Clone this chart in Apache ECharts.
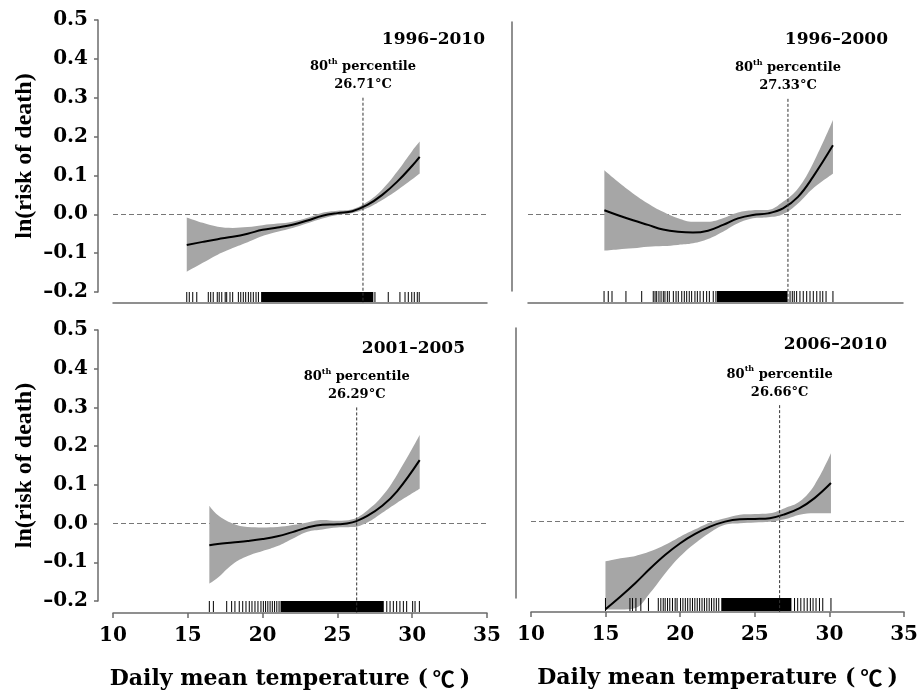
<!DOCTYPE html>
<html>
<head>
<meta charset="utf-8">
<script src="https://cdn.jsdelivr.net/npm/echarts@6/dist/echarts.min.js"></script>
<style>
html, body { margin: 0; background: #fff; }
#main { width: 921px; height: 694px; }
</style>
</head>
<body>
<div id="main"></div>
<script>
// periods shown in the four panels (TL, TR, BL, BR)
const periods = ['1996–2010', '1996–2000', '2001–2005', '2006–2010']
const pct80 = [26.71, 27.33, 26.29, 26.66]
const pctTop = 0.30

const xTicks = [10, 15, 20, 25, 30, 35]
const yTicks = [-0.2, -0.1, 0.0, 0.1, 0.2, 0.3, 0.4, 0.5]

// 1996-2010
const tlTemp = [14.93, 16, 17, 18, 19, 20, 21, 22, 23, 24, 25, 26, 27, 28, 29, 30, 30.5]
const tlFit = [-0.079, -0.071, -0.064, -0.058, -0.050, -0.040, -0.034, -0.027, -0.016, -0.004, 0.003, 0.008, 0.024, 0.050, 0.084, 0.125, 0.148]
const tlUp = [-0.008, -0.022, -0.032, -0.035, -0.033, -0.028, -0.024, -0.019, -0.009, 0.004, 0.009, 0.013, 0.032, 0.064, 0.110, 0.163, 0.187]
const tlLow = [-0.148, -0.125, -0.104, -0.087, -0.072, -0.056, -0.045, -0.035, -0.023, -0.011, -0.002, 0.003, 0.016, 0.037, 0.062, 0.090, 0.105]
const tlRug = [14.93, 15.1, 15.33, 15.6, 16.37, 16.53, 16.7, 16.97, 17.1, 17.27, 17.5, 17.6, 17.82, 18.0, 18.38, 18.54, 18.71, 18.87, 19.05, 19.21, 19.38, 19.56, 19.72,
  27.51, 28.4, 29.18, 29.52, 29.74, 29.97, 30.14, 30.34, 30.47]
const tlRugBlock = [[19.9, 27.4]]

// 1996-2000
const trTemp = [15.09, 16, 17, 18, 19, 20, 21, 22, 23, 24, 25, 26, 27, 28, 29, 30.33]
const trFit = [0.010, -0.003, -0.016, -0.028, -0.040, -0.046, -0.048, -0.043, -0.028, -0.011, -0.002, 0.002, 0.015, 0.045, 0.097, 0.179]
const trUp = [0.114, 0.084, 0.054, 0.028, 0.006, -0.011, -0.020, -0.020, -0.011, 0.004, 0.010, 0.011, 0.032, 0.067, 0.132, 0.245]
const trLow = [-0.095, -0.092, -0.089, -0.085, -0.083, -0.080, -0.076, -0.065, -0.046, -0.024, -0.011, -0.008, 0.000, 0.028, 0.067, 0.105]
const trRug = [15.07, 15.35, 15.6, 16.53, 17.58, 18.35, 18.47, 18.58, 18.73, 18.87, 19.02, 19.13, 19.29, 19.42, 19.69, 19.87, 20.02, 20.25, 20.42, 20.58, 20.75, 20.91,
  21.13, 21.29, 21.47, 21.69, 21.91, 22.09, 22.35, 22.53,
  27.47, 27.62, 27.75, 27.91, 28.13, 28.35, 28.58, 28.8, 29.02, 29.25, 29.47, 29.65, 29.87, 30.33]
const trRugBlock = [[22.6, 27.3]]

// 2001-2005
const blTemp = [16.44, 17, 18, 19, 20, 21, 22, 23, 24, 25, 26, 27, 28, 29, 30.5]
const blFit = [-0.056, -0.053, -0.049, -0.045, -0.040, -0.033, -0.022, -0.010, -0.003, -0.002, 0.003, 0.020, 0.046, 0.084, 0.164]
const blUp = [0.046, 0.022, 0.000, -0.009, -0.010, -0.009, -0.004, 0.003, 0.009, 0.007, 0.011, 0.034, 0.071, 0.127, 0.229]
const blLow = [-0.155, -0.140, -0.105, -0.084, -0.071, -0.058, -0.039, -0.021, -0.015, -0.010, -0.009, 0.003, 0.028, 0.054, 0.090]
const blRug = [16.44, 16.71, 17.6, 17.93, 18.15, 18.44, 18.67, 18.89, 19.11, 19.29, 19.49, 19.69, 19.89, 20.05, 20.2, 20.35, 20.5, 20.65, 20.8, 20.95, 21.1,
  28.3, 28.52, 28.74, 28.96, 29.18, 29.41, 29.63, 30.03, 30.19, 30.48]
const blRugBlock = [[21.2, 28.1]]

// 2006-2010
const brTemp = [14.99, 16, 17, 18, 19, 20, 21, 22, 23, 24, 25, 26, 27, 28, 29, 30.1]
const brFit = [-0.229, -0.196, -0.161, -0.123, -0.088, -0.058, -0.034, -0.015, -0.002, 0.004, 0.005, 0.007, 0.017, 0.033, 0.059, 0.098]
const brUp = [-0.105, -0.097, -0.091, -0.079, -0.062, -0.041, -0.022, -0.004, 0.007, 0.016, 0.018, 0.020, 0.033, 0.050, 0.093, 0.175]
const brLow = [-0.230, -0.230, -0.226, -0.186, -0.136, -0.092, -0.058, -0.030, -0.010, -0.006, -0.004, -0.002, 0.004, 0.016, 0.020, 0.020]
const brRug = [14.99, 16.63, 16.8, 17.03, 17.36, 17.87, 18.53, 18.7, 18.86, 18.99, 19.15, 19.3, 19.48, 19.66, 19.79, 20.02, 20.18, 20.34, 20.5, 20.66, 20.82,
  20.98, 21.14, 21.3, 21.46, 21.62, 21.78, 21.94, 22.1, 22.26, 22.42, 22.58,
  27.66, 27.87, 28.08, 28.3, 28.51, 28.72, 28.9, 29.1, 29.33, 29.55, 30.1]
const brRugBlock = [[22.75, 27.45]]

const panels = [
  { temp: tlTemp, fit: tlFit, up: tlUp, low: tlLow, rug: tlRug, block: tlRugBlock },
  { temp: trTemp, fit: trFit, up: trUp, low: trLow, rug: trRug, block: trRugBlock },
  { temp: blTemp, fit: blFit, up: blUp, low: blLow, rug: blRug, block: blRugBlock },
  { temp: brTemp, fit: brFit, up: brUp, low: brLow, rug: brRug, block: brRugBlock }
]

const SERIF = 'DejaVu Serif'
const AXIS_GREY = '#6b6b6b'

const grids = [
  { left: 113, top: 20, width: 374, height: 272 },
  { left: 528, top: 22, width: 375, height: 269 },
  { left: 113, top: 330, width: 374, height: 271 },
  { left: 531, top: 328, width: 376, height: 270 }
]
const xOffsets = [11, 12, 12, 14]
const yOffsets = [15, 16, 15, 15]
const titlePos = [
  { right: 436, top: 31 },
  { right: 33, top: 31 },
  { right: 456, top: 340 },
  { right: 34, top: 336 }
]

const fmtY = v => v.toFixed(1).replace('-', '–')

const xAxes = grids.map((g, i) => {
  const bottom = i >= 2
  return {
    type: 'value', gridIndex: i, min: xTicks[0], max: xTicks[xTicks.length - 1], interval: 5,
    offset: xOffsets[i],
    axisLine: { onZero: false, lineStyle: { color: AXIS_GREY, width: 1.5 } },
    axisTick: { show: bottom, length: 5, lineStyle: { color: AXIS_GREY, width: 1.5 } },
    axisLabel: { show: bottom, margin: 13, color: '#000', fontFamily: SERIF, fontWeight: 'bold', fontSize: 20 },
    splitLine: { show: false },
    name: bottom ? 'Daily mean temperature ({c|℃})' : '',
    nameLocation: 'middle', nameGap: 55,
    nameTextStyle: {
      color: '#000', fontFamily: SERIF, fontWeight: 'bold', fontSize: 22,
      padding: i === 2 ? [0, 20, 0, 0] : 0,
      rich: { c: { fontFamily: 'Noto Sans CJK SC', fontWeight: 'bold', fontSize: 22, color: '#000', padding: [0, 5, 0, 5] } }
    }
  }
})

const yAxes = grids.map((g, i) => {
  const left = i % 2 === 0
  return {
    type: 'value', gridIndex: i, min: yTicks[0], max: yTicks[yTicks.length - 1], interval: 0.1,
    offset: yOffsets[i],
    axisLine: { show: true, onZero: false, lineStyle: { color: AXIS_GREY, width: 1.5 } },
    axisTick: { show: left, length: 4, lineStyle: { color: AXIS_GREY, width: 1.5 } },
    axisLabel: { show: left, margin: 10, formatter: fmtY, color: '#000', fontFamily: SERIF, fontWeight: 'bold', fontSize: 20 },
    splitLine: { show: false },
    name: left ? 'ln(risk of death)' : '',
    nameLocation: 'middle', nameGap: 61, nameRotate: 90,
    nameTextStyle: { color: '#000', fontFamily: 'Liberation Serif', fontWeight: 'bold', fontSize: 24 }
  }
})

const series = []
panels.forEach((p, i) => {
  const rugLen = xOffsets[i] - 1
  // value first, temperature second, so the stack runs on the y value
  const lowData = p.temp.map((t, k) => [p.low[k], t])
  const diffData = p.temp.map((t, k) => [p.up[k] - p.low[k], t])
  const fitData = p.temp.map((t, k) => [t, p.fit[k]])
  series.push({
    type: 'line', xAxisIndex: i, yAxisIndex: i, data: lowData, encode: { x: 1, y: 0 },
    stack: 'band' + i, stackStrategy: 'all',
    smooth: 0.4, showSymbol: false, symbol: 'none', lineStyle: { opacity: 0 }, clip: false, silent: true, z: 2
  })
  series.push({
    type: 'line', xAxisIndex: i, yAxisIndex: i, data: diffData, encode: { x: 1, y: 0 },
    stack: 'band' + i, stackStrategy: 'all',
    smooth: 0.4, showSymbol: false, symbol: 'none', lineStyle: { opacity: 0 },
    areaStyle: { color: '#a6a6a6', opacity: 1 }, clip: false, silent: true, z: 2
  })
  // fitted curve + zero reference
  series.push({
    type: 'line', xAxisIndex: i, yAxisIndex: i, data: fitData, smooth: 0.4, showSymbol: false, symbol: 'none',
    lineStyle: { color: '#000', width: 2 }, clip: false, silent: true, z: 5,
    markLine: {
      silent: true, symbol: 'none', label: { show: false }, z: 1,
      lineStyle: { type: [5, 3], color: '#777', width: 1 },
      data: [{ yAxis: 0 }]
    }
  })
  // rug ticks
  series.push({
    type: 'custom', xAxisIndex: i, yAxisIndex: i, data: p.rug.map(t => [t]), silent: true, z: 3,
    renderItem: (params, api) => {
      const pt = api.coord([api.value(0), yTicks[0]])
      return {
        type: 'line',
        shape: { x1: pt[0], y1: pt[1], x2: pt[0], y2: pt[1] + rugLen },
        style: { stroke: '#000', lineWidth: 1 }
      }
    }
  })
  series.push({
    type: 'custom', xAxisIndex: i, yAxisIndex: i, data: p.block, silent: true, z: 3,
    renderItem: (params, api) => {
      const a = api.coord([api.value(0), yTicks[0]])
      const b = api.coord([api.value(1), yTicks[0]])
      return {
        type: 'rect',
        shape: { x: a[0], y: a[1], width: b[0] - a[0], height: rugLen },
        style: { fill: '#000' }
      }
    }
  })
  // 80th percentile line with label
  series.push({
    type: 'custom', xAxisIndex: i, yAxisIndex: i, data: [[pct80[i]]], silent: true, z: 6,
    renderItem: (params, api) => {
      const top = api.coord([api.value(0), pctTop])
      const bot = api.coord([api.value(0), yTicks[0]])
      return {
        type: 'group',
        children: [
          {
            type: 'line',
            shape: { x1: top[0], y1: top[1], x2: bot[0], y2: bot[1] + rugLen + 1 },
            style: { stroke: '#333', lineWidth: 1, lineDash: [3, 2] }
          },
          {
            type: 'text', x: top[0], y: top[1] - 4,
            style: {
              text: '{a|80}{s|th}{a| percentile}\n{a|' + pct80[i].toFixed(2) + '°C}',
              align: 'center', verticalAlign: 'bottom',
              rich: {
                a: { fontFamily: SERIF, fontWeight: 'bold', fontSize: 13, lineHeight: 18, fill: '#000' },
                s: { fontFamily: SERIF, fontWeight: 'bold', fontSize: 8, lineHeight: 18, verticalAlign: 'top', fill: '#000' }
              }
            }
          }
        ]
      }
    }
  })
})

const chart = echarts.init(document.getElementById('main'), null, { renderer: 'canvas' })
chart.setOption({
  backgroundColor: '#fff',
  animation: false,
  title: periods.map((t, i) => ({
    text: t, right: titlePos[i].right, top: titlePos[i].top, padding: 0,
    textStyle: { color: '#000', fontFamily: SERIF, fontWeight: 'bold', fontSize: 17 }
  })),
  grid: grids,
  xAxis: xAxes,
  yAxis: yAxes,
  series: series
})
</script>
</body>
</html>
